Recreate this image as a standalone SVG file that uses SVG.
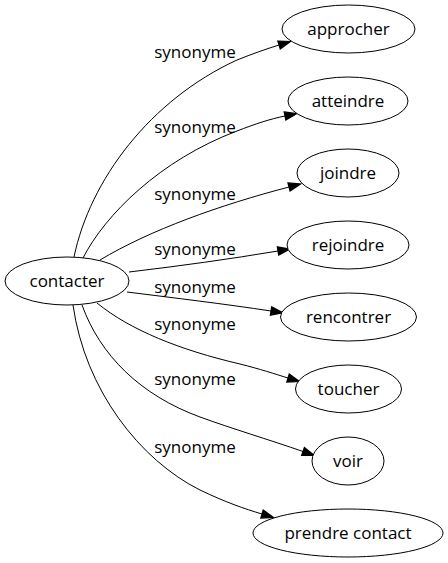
<svg xmlns="http://www.w3.org/2000/svg" width="448" height="563" viewBox="0 0 448 563">
<style>
.node ellipse{fill:#fff;stroke:#000;stroke-width:1}
.node text{font-family:"Open Sans","DejaVu Sans",sans-serif;font-size:17px;fill:#000;text-anchor:middle}
.edges path{fill:none;stroke:#000;stroke-width:1;marker-end:url(#arr)}
.lbl text{font-family:"Open Sans","DejaVu Sans",sans-serif;font-size:17px;fill:#000;text-anchor:middle}
</style>
<defs>
<marker id="arr" markerUnits="userSpaceOnUse" markerWidth="12" markerHeight="10" refX="0" refY="3.5" orient="auto" viewBox="0 0 10 7" overflow="visible">
<path d="M0,0 L10,3.5 L0,7 z" fill="#000" stroke="#000" stroke-width="1"/>
</marker>
</defs>
<rect width="448" height="563" fill="#fff"/>
<g id="edges" class="edges">
<path d="M74,257 C90,180 150,100 237,60 C252,54 266,49 279,45"/>
<path d="M83,258 C105,215 160,160 237,131 C255,124 270,119 285,116"/>
<path d="M100,260 C150,230 220,205 289,187"/>
<path d="M129,272 C180,266 230,259 278,251"/>
<path d="M127,292 C175,298 225,304 271,311"/>
<path d="M97,303 C130,330 180,350 240,364 C260,369 275,374 288,378"/>
<path d="M82,305 C100,355 140,395 200,417 C230,428 270,440 303,451.5"/>
<path d="M73,305 C85,390 140,460 200,490 C225,502 245,509 262,514"/>
</g>
<g id="labels" class="lbl">
<text x="195" y="58">synonyme</text>
<text x="195" y="133">synonyme</text>
<text x="195" y="200">synonyme</text>
<text x="195" y="255">synonyme</text>
<text x="195" y="293">synonyme</text>
<text x="195" y="330">synonyme</text>
<text x="195" y="385">synonyme</text>
<text x="195" y="453">synonyme</text>
</g>
<g id="contacter" class="node"><ellipse cx="67" cy="281" rx="62" ry="24"/><text x="67" y="287">contacter</text></g>
<g id="approcher" class="node"><ellipse cx="348.5" cy="29" rx="66.5" ry="24"/><text x="348.5" y="35">approcher</text></g>
<g id="atteindre" class="node"><ellipse cx="348" cy="101" rx="60" ry="24"/><text x="348" y="107">atteindre</text></g>
<g id="joindre" class="node"><ellipse cx="348" cy="173" rx="51" ry="24"/><text x="348" y="179">joindre</text></g>
<g id="rejoindre" class="node"><ellipse cx="348" cy="245" rx="61" ry="24"/><text x="348" y="251">rejoindre</text></g>
<g id="rencontrer" class="node"><ellipse cx="348.5" cy="317" rx="68" ry="24"/><text x="348.5" y="323">rencontrer</text></g>
<g id="toucher" class="node"><ellipse cx="348.5" cy="389" rx="53" ry="24"/><text x="348.5" y="395">toucher</text></g>
<g id="voir" class="node"><ellipse cx="348" cy="461" rx="36" ry="24"/><text x="348" y="467">voir</text></g>
<g id="prendre_contact" class="node"><ellipse cx="348" cy="533" rx="95" ry="24"/><text x="348" y="539">prendre contact</text></g>
</svg>
